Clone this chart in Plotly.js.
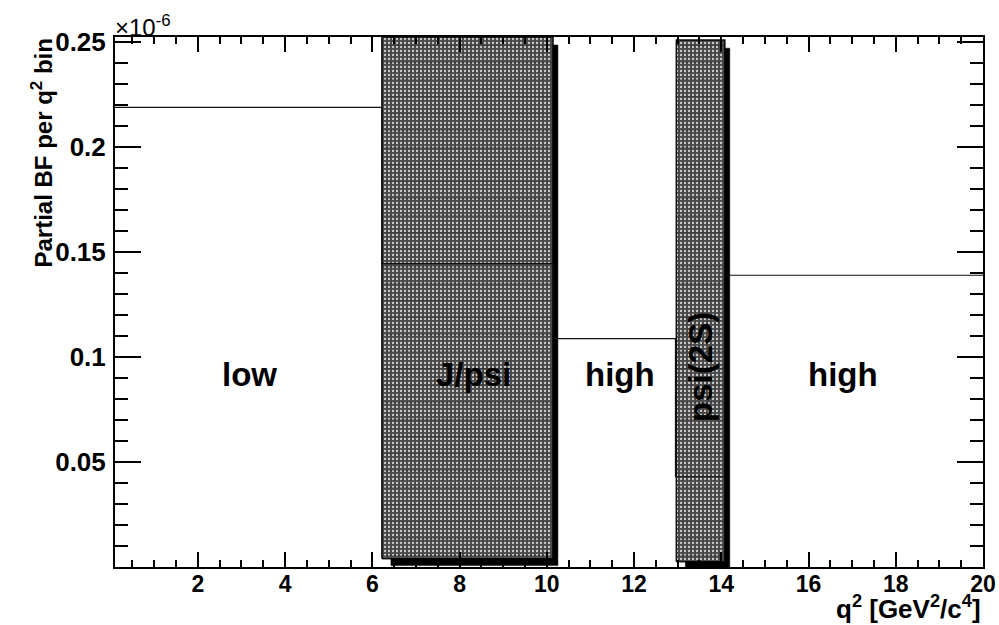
<!DOCTYPE html>
<html>
<head>
<meta charset="utf-8">
<script src="https://cdn.plot.ly/plotly-3.0.1.min.js"></script>
<style>html,body{margin:0;padding:0;background:#fff;}#chart{width:999px;height:625px;}</style>
</head>
<body>
<div id="chart"></div>
<script>
// Histogram bin edges in q^2 [GeV^2/c^4]
var binEdges = [0.1, 6.22, 10.14, 12.95, 14.07, 20];
// Partial BF per q^2 bin, in units of 1e-6
var binValues = [0.219, 0.1445, 0.1088, 0.043, 0.139];
// Vetoed charmonium regions (boxes)
var vetoNames = ['J/psi', 'psi(2S)'];
var vetoLow = [6.22, 12.97];
var vetoHigh = [10.14, 14.08];
var vetoBottom = [0.004, 0.0025];
var vetoTop = [0.2525, 0.251];
// Region labels
var regionLabels = ['low', 'J/psi', 'high', 'psi(2S)', 'high'];
var xTickVals = [2, 4, 6, 8, 10, 12, 14, 16, 18, 20];
var yTickVals = [0.05, 0.1, 0.15, 0.2, 0.25];

// layout constants
var W = 999, H = 625, ML = 115, MR = 16, MT = 37, MB = 58;
var xRange = [0.1, 20], yRange = [0, 0.2525];
var plotW = W - ML - MR, plotH = H - MT - MB;
function dx(px) { return px * (xRange[1] - xRange[0]) / plotW; }
function dy(px) { return px * (yRange[1] - yRange[0]) / plotH; }

var traces = [];
for (var i = 0; i < vetoNames.length; i++) {
  var x0 = vetoLow[i], x1 = vetoHigh[i], y0 = vetoBottom[i], y1 = vetoTop[i];
  traces.push({
    type: 'scatter', mode: 'lines', x: [x0, x1, x1, x0, x0], y: [y0, y0, y1, y1, y0],
    fill: 'toself', fillcolor: '#606060',
    fillpattern: {shape: '.', bgcolor: '#484848', fgcolor: '#d0d0d0', size: 4, solidity: 0.25, fillmode: 'replace'},
    line: {color: '#111', width: 1.2}, hoverinfo: 'skip', showlegend: false
  });
  traces.push({
    type: 'scatter', mode: 'lines', x: [x0, x1, x1, x0, x0], y: [y0, y0, y1, y1, y0],
    fill: 'toself', fillcolor: 'rgba(0,0,0,0)',
    fillpattern: {shape: '-', bgcolor: 'rgba(0,0,0,0)', fgcolor: 'rgba(20,20,20,0.6)', size: 17, solidity: 0.07, fillmode: 'overlay'},
    line: {color: '#111', width: 1.2}, hoverinfo: 'skip', showlegend: false
  });
  traces.push({
    type: 'scatter', mode: 'lines',
    x: [x1, x1 + dx(5), x1 + dx(5), x0 + dx(9), x0 + dx(9), x1, x1],
    y: [y1 - dy(8), y1 - dy(8), y0 - dy(7), y0 - dy(7), y0, y0, y1 - dy(8)],
    fill: 'toself', fillcolor: '#000', line: {color: '#000', width: 0.5},
    hoverinfo: 'skip', showlegend: false
  });
}
var hx = binEdges.slice();
var hy = binValues.concat([binValues[binValues.length - 1]]);
traces.push({
  type: 'scatter', mode: 'lines', x: hx, y: hy,
  line: {shape: 'hv', color: '#111', width: 1.2}, hoverinfo: 'skip', showlegend: false
});

var F = 'Liberation Sans, Arial, Helvetica, sans-serif';
var labelPos = [[3.19, 0.0915, 0], [8.33, 0.0915, 0], [11.68, 0.0915, 0], [13.52, 0.0955, -90], [16.78, 0.0915, 0]];
var annotations = [];
for (var k = 0; k < regionLabels.length; k++) {
  annotations.push({
    xref: 'x', yref: 'y', x: labelPos[k][0], y: labelPos[k][1], text: regionLabels[k],
    textangle: labelPos[k][2], showarrow: false, xanchor: 'center', yanchor: 'middle',
    font: {family: F, size: 33, color: '#000', weight: 'bold'}
  });
}
annotations.push({
  xref: 'paper', yref: 'paper', x: (41 - ML) / plotW, y: 1, xanchor: 'center', yanchor: 'top',
  textangle: -90, text: 'Partial BF per q<sup>2</sup> bin', showarrow: false,
  font: {family: F, size: 24, color: '#000', weight: 'bold'}
});
annotations.push({
  xref: 'paper', yref: 'paper', x: 1, y: -(607 - (H - MB)) / plotH, xanchor: 'right', yanchor: 'middle',
  text: 'q<sup>2</sup> [GeV<sup>2</sup>/c<sup>4</sup>]', showarrow: false,
  font: {family: F, size: 26, color: '#000', weight: 'bold'}
});
annotations.push({
  xref: 'paper', yref: 'paper', x: -0.002, y: 1 + (MT - 26) / plotH, xanchor: 'left', yanchor: 'middle',
  text: '\u00d710<sup>-6</sup>', showarrow: false,
  font: {family: F, size: 24, color: '#000'}
});

var layout = {
  width: W, height: H,
  margin: {l: ML, r: MR, t: MT, b: MB, pad: 0},
  paper_bgcolor: '#fff', plot_bgcolor: '#fff',
  showlegend: false,
  xaxis: {
    range: xRange, tickmode: 'array', tickvals: xTickVals, ticktext: xTickVals.map(String),
    ticks: 'inside', ticklen: 15, tickwidth: 2, tickcolor: '#000',
    minor: {dtick: 0.5, tick0: 0, ticks: 'inside', ticklen: 7, tickwidth: 2, tickcolor: '#000'},
    showline: true, linecolor: '#000', linewidth: 2, mirror: 'ticks',
    showgrid: false, zeroline: false, ticklabelstandoff: -5,
    tickfont: {family: F, size: 23, color: '#000', weight: 'bold'}
  },
  yaxis: {
    range: yRange, tickmode: 'array', tickvals: yTickVals, ticktext: ['0.05', '0.1', '0.15', '0.2', '0.25'],
    ticks: 'inside', ticklen: 26, tickwidth: 2, tickcolor: '#000',
    minor: {dtick: 0.01, tick0: 0, ticks: 'inside', ticklen: 13, tickwidth: 2, tickcolor: '#000'},
    showline: true, linecolor: '#000', linewidth: 2, mirror: 'ticks',
    showgrid: false, zeroline: false, ticklabelstandoff: 2,
    tickfont: {family: F, size: 26, color: '#000', weight: 'bold'}
  },
  annotations: annotations
};

Plotly.newPlot('chart', traces, layout, {displayModeBar: false, staticPlot: true});
</script>
</body>
</html>
